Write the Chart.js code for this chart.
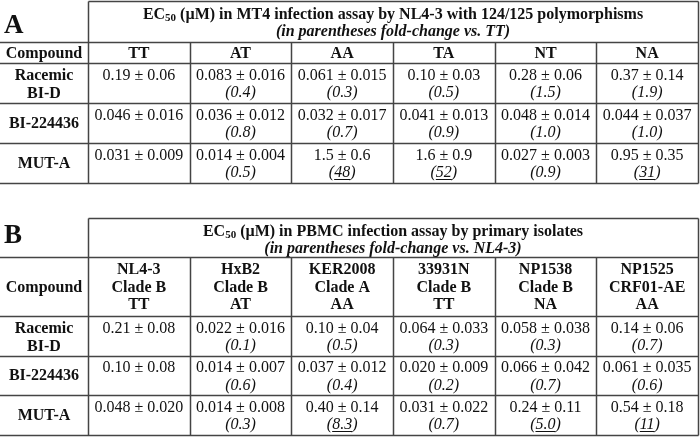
<!DOCTYPE html>
<html><head><meta charset="utf-8">
<script src="https://cdn.jsdelivr.net/npm/chart.js@4.4.1/dist/chart.umd.min.js"></script>
<style>html,body{margin:0;padding:0;background:#fff}#wrap{width:700px;height:437px;position:relative}</style>
</head><body><div id="wrap"><canvas id="c"></canvas></div>
<script>
// ---------- DATA ----------
const compounds = [['Racemic','BI-D'], ['BI-224436'], ['MUT-A']];

const titleA = ['EC|50| (\u00B5M) in MT4 infection assay by NL4-3 with 124/125 polymorphisms', '(in parentheses fold-change vs. TT)'];
const variantsA = ['TT','AT','AA','TA','NT','NA'];
const ecA_mean = [['0.19','0.083','0.061','0.10','0.28','0.37'],
                  ['0.046','0.036','0.032','0.041','0.048','0.044'],
                  ['0.031','0.014','1.5','1.6','0.027','0.95']];
const ecA_sd   = [['0.06','0.016','0.015','0.03','0.06','0.14'],
                  ['0.016','0.012','0.017','0.013','0.014','0.037'],
                  ['0.009','0.004','0.6','0.9','0.003','0.35']];
const foldA    = [[null,'0.4','0.3','0.5','1.5','1.9'],
                  [null,'0.8','0.7','0.9','1.0','1.0'],
                  [null,'0.5','48','52','0.9','31']];

const titleB = ['EC|50| (\u00B5M) in PBMC infection assay by primary isolates', '(in parentheses fold-change vs. NL4-3)'];
const isolatesB = [['NL4-3','Clade B','TT'],['HxB2','Clade B','AT'],['KER2008','Clade A','AA'],
                   ['33931N','Clade B','TT'],['NP1538','Clade B','NA'],['NP1525','CRF01-AE','AA']];
const ecB_mean = [['0.21','0.022','0.10','0.064','0.058','0.14'],
                  ['0.10','0.014','0.037','0.020','0.066','0.061'],
                  ['0.048','0.014','0.40','0.031','0.24','0.54']];
const ecB_sd   = [['0.08','0.016','0.04','0.033','0.038','0.06'],
                  ['0.08','0.007','0.012','0.009','0.042','0.035'],
                  ['0.020','0.008','0.14','0.022','0.11','0.18']];
const foldB    = [[null,'0.1','0.5','0.3','0.3','0.7'],
                  [null,'0.6','0.4','0.2','0.7','0.6'],
                  [null,'0.3','8.3','0.7','5.0','11']];
const UNDERLINE_FOLD = 5;

// ---------- LAYOUT ----------
const X_MIN = -0.8656, X_MAX = 6.0197;
const LAYOUT = {
  A: {top: 1,   title: 41, header: 21, row: 40,   letterBase: 32},
  B: {top: 218, title: 39, header: 59, row: 39.5, letterBase: 25}
};
const FONT = '"Liberation Serif", "Times New Roman", serif';

const tables = [
  {id:'A', L: LAYOUT.A, title: titleA, heads: variantsA.map(v => [v]), mean: ecA_mean, sd: ecA_sd, fold: foldA},
  {id:'B', L: LAYOUT.B, title: titleB, heads: isolatesB, mean: ecB_mean, sd: ecB_sd, fold: foldB}
];

// build cells (positions resolved by the chart scales)
const cells = [];
tables.forEach(t => {
  const L = t.L;
  const headTop = L.top + L.title, rowsTop = headTop + L.header;
  cells.push({x: 3, y: L.top, kind: 'title', t});
  cells.push({x: X_MIN, y: L.top, kind: 'letter', t});
  cells.push({x: X_MIN / 2, y: headTop + L.header / 2, kind: 'head', lines: ['Compound']});
  t.heads.forEach((h, c) => cells.push({x: c + 0.5, y: headTop + L.header / 2, kind: 'head', lines: h}));
  compounds.forEach((cp, r) => {
    cells.push({x: X_MIN / 2, y: rowsTop + r * L.row, kind: 'compound', lines: cp, h: L.row});
    for (let c = 0; c < 6; c++) {
      cells.push({x: c + 0.5, y: rowsTop + r * L.row, kind: 'value',
                  mean: t.mean[r][c], sd: t.sd[r][c], fold: t.fold[r][c]});
    }
  });
  cells.push({x: 0, y: L.top, kind: 'grid', t});
});

const TS = 16; // title size
function drawTitleLine(ctx, text, cx, cy) {
  const parts = text.split('|');
  const segs = parts.map((p, i) => ({p, sub: i % 2 === 1}));
  let w = 0;
  const f = s => (s.sub ? 'bold 11px ' : 'bold ' + TS + 'px ') + FONT;
  segs.forEach(s => { ctx.font = f(s); s.w = ctx.measureText(s.p).width; w += s.w; });
  let x = cx - w / 2;
  ctx.textAlign = 'left';
  segs.forEach(s => {
    ctx.font = f(s);
    ctx.fillText(s.p, x, cy + (s.sub ? 3 : 0));
    x += s.w;
  });
}

const tablePlugin = {
  id: 'tablePlugin',
  beforeDraw(chart) {
    const ctx = chart.ctx;
    ctx.save(); ctx.fillStyle = '#fff'; ctx.fillRect(0, 0, chart.width, chart.height); ctx.restore();
  },
  afterDatasetsDraw(chart) {
    const ctx = chart.ctx, xs = chart.scales.x, ys = chart.scales.y;
    const meta = chart.getDatasetMeta(0);
    const data = chart.data.datasets[0].data;
    ctx.save();
    ctx.fillStyle = '#111';
    ctx.textBaseline = 'middle';
    data.forEach((d, i) => {
      const px = meta.data[i].x, py = meta.data[i].y;
      if (d.kind === 'grid') {
        const L = d.t.L;
        const ys0 = [L.top, L.top + L.title, L.top + L.title + L.header];
        for (let r = 1; r <= 3; r++) ys0.push(L.top + L.title + L.header + r * L.row);
        const yp = ys0.map(v => Math.round(ys.getPixelForValue(v)) + 0.5);
        const xl = xs.getPixelForValue(X_MIN), x0 = xs.getPixelForValue(0), x6 = Math.round(xs.getPixelForValue(6)) + 0.5;
        ctx.strokeStyle = '#444'; ctx.lineWidth = 1.5;
        ctx.beginPath();
        ctx.moveTo(Math.round(x0) + 0.5, yp[0]); ctx.lineTo(x6, yp[0]);
        for (let k = 1; k < yp.length; k++) { ctx.moveTo(xl, yp[k]); ctx.lineTo(x6, yp[k]); }
        ctx.moveTo(Math.round(x0) + 0.5, yp[0]); ctx.lineTo(Math.round(x0) + 0.5, yp[yp.length - 1]);
        for (let c = 1; c <= 5; c++) {
          const xx = Math.round(xs.getPixelForValue(c)) + 0.5;
          ctx.moveTo(xx, yp[1]); ctx.lineTo(xx, yp[yp.length - 1]);
        }
        ctx.moveTo(x6, yp[0]); ctx.lineTo(x6, yp[yp.length - 1]);
        ctx.stroke();
      } else if (d.kind === 'title') {
        ctx.fillStyle = '#111';
        drawTitleLine(ctx, d.t.title[0], px, py + 14);
        ctx.font = 'italic bold ' + TS + 'px ' + FONT; ctx.textAlign = 'center';
        ctx.fillText(d.t.title[1], px, py + 31);
      } else if (d.kind === 'letter') {
        ctx.font = 'bold 27px ' + FONT; ctx.textAlign = 'left'; ctx.textBaseline = 'alphabetic';
        ctx.fillText(d.t.id, px + 4, py + d.t.L.letterBase);
        ctx.textBaseline = 'middle';
      } else if (d.kind === 'head') {
        ctx.font = 'bold 16px ' + FONT; ctx.textAlign = 'center';
        const n = d.lines.length, lh = 17.5;
        d.lines.forEach((s, k) => ctx.fillText(s, px, py + (k - (n - 1) / 2) * lh + 1));
      } else if (d.kind === 'compound') {
        ctx.font = 'bold 16px ' + FONT; ctx.textAlign = 'center';
        if (d.lines.length === 2) {
          ctx.fillText(d.lines[0], px, py + 13); ctx.fillText(d.lines[1], px, py + 30.5);
        } else {
          ctx.fillText(d.lines[0], px, py + d.h / 2 + 1);
        }
      } else if (d.kind === 'value') {
        ctx.font = '16px ' + FONT; ctx.textAlign = 'center';
        ctx.fillText(d.mean + ' \u00B1 ' + d.sd, px, py + 12.5);
        if (d.fold !== null) {
          ctx.font = 'italic 16px ' + FONT; ctx.textAlign = 'left';
          const w1 = ctx.measureText('(').width, w2 = ctx.measureText(d.fold).width, w3 = ctx.measureText(')').width;
          let x = px - (w1 + w2 + w3) / 2, yy = py + 30;
          ctx.fillText('(', x, yy); ctx.fillText(d.fold, x + w1, yy); ctx.fillText(')', x + w1 + w2, yy);
          if (parseFloat(d.fold) >= UNDERLINE_FOLD) {
            ctx.strokeStyle = '#111'; ctx.lineWidth = 1;
            ctx.beginPath(); ctx.moveTo(x + w1, Math.round(yy + 6) + 0.5); ctx.lineTo(x + w1 + w2, Math.round(yy + 6) + 0.5); ctx.stroke();
          }
        }
      }
    });
    ctx.restore();
  }
};

new Chart(document.getElementById('c'), {
  type: 'scatter',
  data: {datasets: [{data: cells, pointRadius: 0, pointHoverRadius: 0, showLine: false}]},
  options: {
    responsive: true, maintainAspectRatio: false, animation: false,
    layout: {padding: 0},
    events: [],
    plugins: {legend: {display: false}, tooltip: {enabled: false}},
    scales: {
      x: {type: 'linear', display: false, min: X_MIN, max: X_MAX},
      y: {type: 'linear', display: false, min: 0, max: 437, reverse: true}
    }
  },
  plugins: [tablePlugin]
});
</script></body></html>
